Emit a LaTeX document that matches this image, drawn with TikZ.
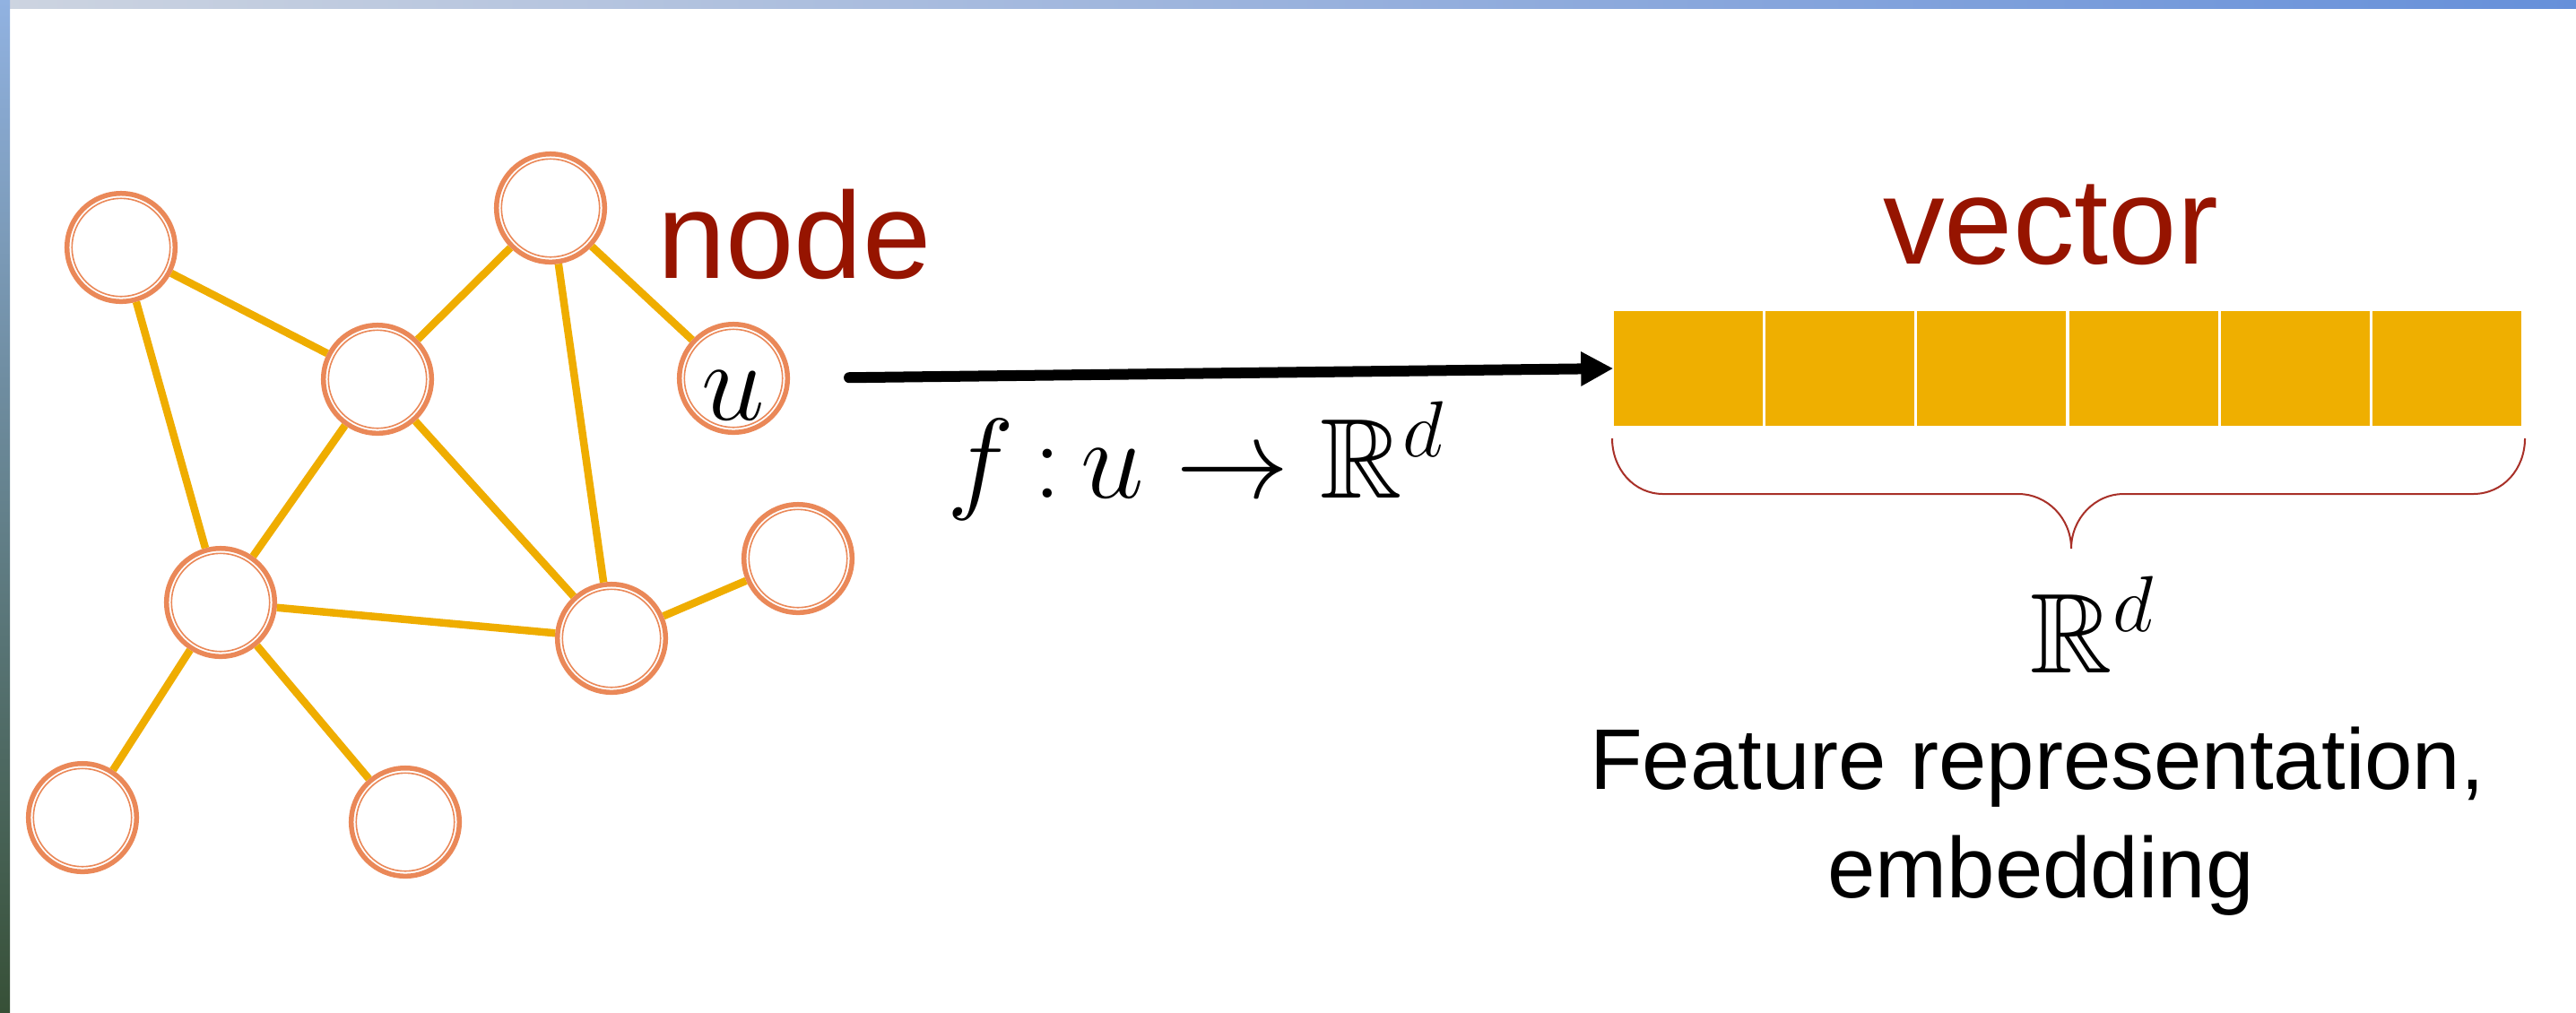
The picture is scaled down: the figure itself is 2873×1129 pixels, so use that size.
\RequirePackage{fix-cm}
\documentclass[tikz,border=0pt]{standalone}
\usepackage{amssymb}
\usepackage{fontspec}
\setmainfont{Liberation Sans}
\usetikzlibrary{arrows.meta,positioning}

\definecolor{ringorange}{RGB}{234,136,88}
\definecolor{linkgold}{RGB}{239,173,0}
\definecolor{cellgold}{RGB}{239,175,0}
\definecolor{labelred}{RGB}{150,20,0}
\definecolor{bracered}{RGB}{168,48,40}
\definecolor{slideblue}{RGB}{102,144,218}
\definecolor{slidegray}{RGB}{205,212,224}
\definecolor{photoblue}{RGB}{145,178,225}
\definecolor{photogray}{RGB}{140,150,160}
\definecolor{photogreen}{RGB}{55,80,55}

\tikzset{
  vnode/.style={circle, draw=ringorange, line width=0.055cm, minimum size=1.205cm,
    inner sep=0pt, fill=white,
    path picture={\draw[ringorange, line width=0.016cm]
      (path picture bounding box.center) circle (0.547cm);}},
  link/.style={draw=linkgold, line width=0.085cm},
  cell/.style={rectangle, fill=cellgold, minimum width=1.66cm, minimum height=1.28cm, inner sep=0pt},
  maparrow/.style={line width=0.12cm, line cap=round, shorten <=0.66cm,
    -{Triangle[length=0.36cm,width=0.36cm]}},
  redlbl/.style={text=labelred, font=\fontsize{39}{47}\selectfont, inner sep=0pt},
  maplbl/.style={font=\fontsize{36}{43}\selectfont, inner sep=0pt},
  featlbl/.style={font=\fontsize{27.3}{34.5}\selectfont, inner sep=0pt}
}

\begin{document}
\begin{tikzpicture}[x=0.01cm, y=-0.01cm]
\useasboundingbox (0,0) rectangle (2873,1129);
\fill[white] (0,0) rectangle (2873,1129);
\shade[left color=slidegray, right color=slideblue] (0,0) rectangle (2873,9);
\shade[top color=photoblue, middle color=photogray, bottom color=photogreen] (0,0) rectangle (11,1129);

\node[vnode] (a) at (135,276) {};
\node[vnode] (b) at (614,232) {};
\node[vnode] (c) at (421,423) {};
\node[vnode, font=\fontsize{36}{43}\selectfont, text height=0.92cm, text depth=0pt] (u) at (818,422) {$u$};
\node[vnode] (d) at (246,672) {};
\node[vnode] (e) at (682,712) {};
\node[vnode] (f) at (890,623) {};
\node[vnode] (g) at (92,912) {};
\node[vnode] (h) at (452,917) {};

\foreach \s/\t in {a/c, a/d, b/c, b/e, b/u, c/d, c/e, d/e, d/g, d/h, e/f}
  \draw[link] (\s) -- (\t);

\node[redlbl, anchor=base] (nodetxt) at (886,310) {node};

\foreach \i in {1,...,6}
  \node[cell] (v\i) at ({1883+(\i-1)*169.2},411) {};

\draw[maparrow] (u.east) -- (v1.west);
\node[maplbl, anchor=base] (map) at (1334,555) {$f\,{:}\,u \to \mathbb{R}^d$};

\node[redlbl, anchor=base] (vectxt) at (2287,294) {vector};

\draw[bracered, line width=0.02cm]
  (1798,489) .. controls (1798,523) and (1822,551) .. (1855,551)
  -- (2251,551) .. controls (2283,551) and (2310,578) .. (2310,612)
  .. controls (2310,578) and (2337,551) .. (2368,551)
  -- (2758,551) .. controls (2792,551) and (2816,523) .. (2816,489);

\node[maplbl, anchor=base] (space) at (2334,750) {$\mathbb{R}^d$};
\node[featlbl, anchor=base] (feat) at (2272,880) {Feature representation,};
\node[featlbl, anchor=base] (emb) at (2276,1001) {embedding};
\end{tikzpicture}
\end{document}
